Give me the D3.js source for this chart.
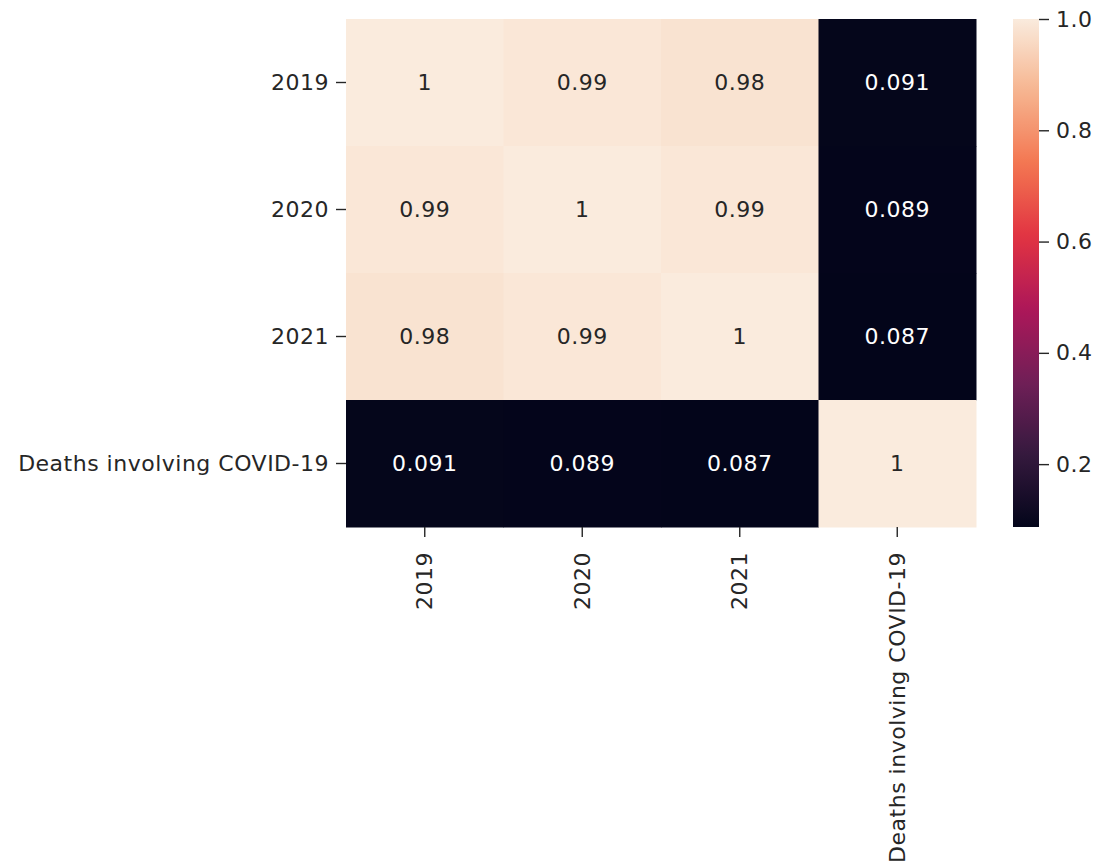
<!DOCTYPE html>
<html>
<head>
	<meta charset='utf-8'>
	<title>Correlation heatmap</title>
	<style>
		body {margin: 0; background: #ffffff}
		text {font-family: 'DejaVu Sans', sans-serif; font-size: 22px; fill: #262626; letter-spacing: 0.5px}
		.tick line {stroke: #262626; stroke-width: 1.4px}
		.domain {display: none}
	</style>
</head>
<body>
	<script src='https://cdn.jsdelivr.net/npm/d3@7'></script>
	<script>

		var labels = ["2019", "2020", "2021", "Deaths involving COVID-19"];

		// correlation matrix, row by row
		var row2019 = [1, 0.99, 0.98, 0.091];
		var row2020 = [0.99, 1, 0.99, 0.089];
		var row2021 = [0.98, 0.99, 1, 0.087];
		var rowDeaths = [0.091, 0.089, 0.087, 1];
		var matrix = [row2019, row2020, row2021, rowDeaths];

		var cbarTicks = [0.2, 0.4, 0.6, 0.8, 1.0];

		// rocket colormap samples
		var rocketStops = ["#03051a", "#35193e", "#701f57", "#ad1759", "#e13342", "#f37651", "#f6b48f", "#faebdd"];
		var rocketPos = [0, 1/7, 2/7, 3/7, 4/7, 5/7, 6/7, 1];

		var W = 1097, H = 867;
		var plot = {left: 346, right: 976, top: 19, bottom: 527};
		var cbar = {left: 1013, right: 1039};

		var svg = d3.select('body').append('svg').attr('width', W).attr('height', H);

		var cells = [];
		matrix.forEach(function(row, i) {
			row.forEach(function(v, j) {
				cells.push({row: labels[i], col: labels[j], value: v});
			});
		});

		var allVals = cells.map(function(d) { return d.value; });
		var vmin = d3.min(allVals), vmax = d3.max(allVals);

		var rocket = d3.scaleLinear().domain(rocketPos).range(rocketStops).interpolate(d3.interpolateRgb);
		var color = function(v) { return rocket((v - vmin) / (vmax - vmin)); };

		var x = d3.scaleBand().domain(labels).range([plot.left, plot.right]);
		var y = d3.scaleBand().domain(labels).range([plot.top, plot.bottom]);

		svg.append('g').selectAll('rect')
			.data(cells)
			.enter().append('rect')
				.attr('x', function(d) { return x(d.col); })
				.attr('y', function(d) { return y(d.row); })
				.attr('width', x.bandwidth() + 0.5)
				.attr('height', y.bandwidth() + 0.5)
				.attr('fill', function(d) { return color(d.value); });

		function textColor(v) {
			var c = d3.rgb(color(v));
			var lum = [c.r, c.g, c.b].map(function(u) {
				u = u / 255;
				return u <= 0.03928 ? u / 12.92 : Math.pow((u + 0.055) / 1.055, 2.4);
			});
			var l = 0.2126 * lum[0] + 0.7152 * lum[1] + 0.0722 * lum[2];
			return l > 0.408 ? '#262626' : '#ffffff';
		}

		svg.append('g').selectAll('text')
			.data(cells)
			.enter().append('text')
				.attr('x', function(d) { return x(d.col) + x.bandwidth() / 2; })
				.attr('y', function(d) { return y(d.row) + y.bandwidth() / 2; })
				.attr('text-anchor', 'middle')
				.attr('dominant-baseline', 'central')
				.style('fill', function(d) { return textColor(d.value); })
				.text(function(d) { return d3.format('.2~g')(d.value); });

		// axes
		var yAxis = svg.append('g')
			.attr('transform', 'translate(' + plot.left + ',0)')
			.call(d3.axisLeft(y).tickSize(10).tickPadding(7));
		yAxis.selectAll('text').style('font-size', '22px').style('fill', '#262626');

		var xAxis = svg.append('g')
			.attr('transform', 'translate(0,' + plot.bottom + ')')
			.call(d3.axisBottom(x).tickSize(10).tickPadding(7));
		xAxis.selectAll('text')
			.style('font-size', '22px').style('fill', '#262626')
			.attr('transform', 'rotate(-90)')
			.attr('x', -25).attr('y', 0).attr('dy', '0.35em')
			.attr('text-anchor', 'end');

		// colorbar
		var cy = d3.scaleLinear().domain([vmin, vmax]).range([plot.bottom, plot.top]);
		var grad = svg.append('defs').append('linearGradient')
			.attr('id', 'cbarGrad').attr('x1', 0).attr('y1', 1).attr('x2', 0).attr('y2', 0);
		d3.range(0, 1.0001, 0.02).forEach(function(t) {
			grad.append('stop').attr('offset', t).attr('stop-color', rocket(t));
		});
		svg.append('rect')
			.attr('x', cbar.left).attr('y', plot.top)
			.attr('width', cbar.right - cbar.left).attr('height', plot.bottom - plot.top)
			.attr('fill', 'url(#cbarGrad)');

		var cAxis = svg.append('g')
			.attr('transform', 'translate(' + cbar.right + ',0)')
			.call(d3.axisRight(cy).tickValues(cbarTicks).tickFormat(d3.format('.1f')).tickSize(10).tickPadding(7));
		cAxis.selectAll('text').style('font-size', '22px').style('fill', '#262626');

	</script>
</body>
</html>
